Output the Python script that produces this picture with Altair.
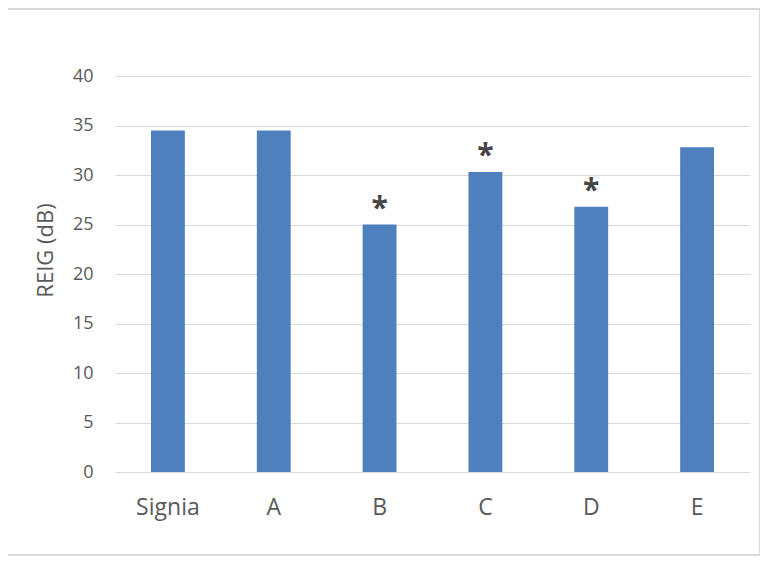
import altair as alt
import pandas as pd

categories = ["Signia", "A", "B", "C", "D", "E"]
reig_db = [34.5, 34.5, 25.0, 30.3, 26.8, 32.8]
significance = ["", "", "*", "*", "*", ""]

df = pd.DataFrame({"cat": categories, "val": reig_db, "sig": significance})

W, H = 635, 396
FONT = "Open Sans"
GREY = "#595959"

x = alt.X("cat:N", sort=categories, title=None,
          scale=alt.Scale(paddingInner=0.68, paddingOuter=0.34),
          axis=alt.Axis(labelAngle=0, labelFontSize=23, labelColor=GREY, labelFont=FONT,
                        labelPadding=24, ticks=False, domain=False))
y = alt.Y("val:Q", title="REIG (dB)",
          scale=alt.Scale(domain=[0, 40], nice=False),
          axis=alt.Axis(values=[0, 5, 10, 15, 20, 25, 30, 35, 40], labelFontSize=18,
                        labelColor=GREY, labelFont=FONT, labelPadding=22, ticks=False,
                        domain=False, gridColor="#d9d9d9", gridWidth=1,
                        titleFontSize=22, titleFont=FONT, titleColor=GREY,
                        titleFontWeight="normal", titleAngle=-90,
                        titleX=-70, titleY=174, titleAlign="center", titleBaseline="middle"))

bars = alt.Chart(df).mark_bar(color="#4e80bd").encode(x=x, y=y)

stars = alt.Chart(df).mark_text(fontSize=30, fontWeight="bold", color="#454545",
                                font=FONT, baseline="middle", dy=-16).encode(
    x=alt.X("cat:N", sort=categories), y="val:Q", text="sig:N")

frame = alt.Chart(df).mark_rect(fill=None, stroke="#d9d9d9", strokeWidth=1, clip=False).encode(
    x=alt.value(-108), x2=alt.value(645), y=alt.value(-67), y2=alt.value(479))

chart = alt.layer(frame, bars, stars).properties(
    width=W, height=H,
    autosize=alt.AutoSizeParams(type="none"),
    padding={"left": 107, "top": 68, "right": 10, "bottom": 84},
).configure(background="white").configure_view(stroke=None)

chart.save("out.html", embed_options={"renderer": "svg", "actions": False})
